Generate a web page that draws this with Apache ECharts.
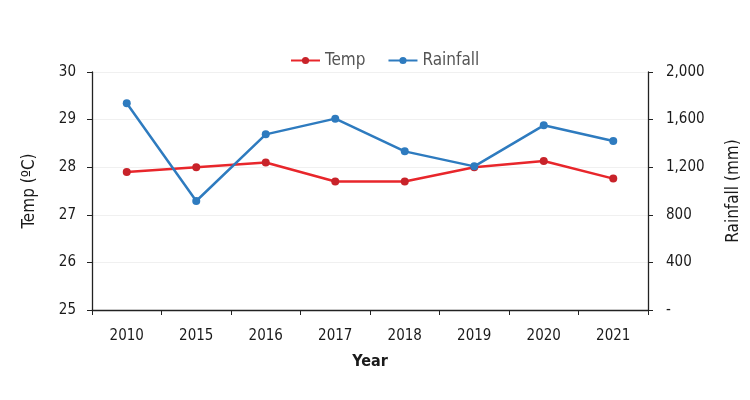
<!DOCTYPE html>
<html>
<head>
<meta charset="utf-8">
<script src="https://cdn.jsdelivr.net/npm/echarts@6/dist/echarts.min.js"></script>
<style>
html, body { margin: 0; padding: 0; background: #fff; }
#main { width: 750px; height: 400px; }
</style>
</head>
<body>
<div id="main"></div>
<script>
const years = ['2010', '2015', '2016', '2017', '2018', '2019', '2020', '2021']
const temp = [27.9, 28.0, 28.1, 27.7, 27.7, 28.0, 28.13, 27.76]
const rainfall = [1737, 916, 1476, 1608, 1333, 1207, 1552, 1420]

const chart = echarts.init(document.getElementById('main'))
const font = '"DejaVu Sans Condensed", "DejaVu Sans", sans-serif'
const txt = '#1a1a1a'

chart.setOption({
    textStyle: { fontFamily: font },
    legend: {
        top: 47,
        left: 285,
        itemGap: 22,
        itemWidth: 29,
        itemHeight: 9,
        textStyle: { fontSize: 17, color: '#555', fontFamily: font },
        data: ['Temp', 'Rainfall']
    },
    grid: { left: 92, right: 102, top: 72, bottom: 90, containLabel: false, outerBoundsMode: 'none' },
    xAxis: {
        type: 'category',
        data: years,
        boundaryGap: true,
        name: 'Year',
        nameLocation: 'middle',
        nameGap: 44,
        nameTextStyle: { fontSize: 16, fontWeight: 'bold', color: txt, fontFamily: font },
        axisLine: { lineStyle: { color: '#222', width: 1.3 } },
        axisTick: { show: true, alignWithLabel: false, length: 5, lineStyle: { color: '#222' } },
        axisLabel: { fontSize: 15, color: txt, margin: 19, fontFamily: font }
    },
    yAxis: [
        {
            type: 'value',
            min: 25, max: 30, interval: 1,
            name: 'Temp (ºC)',
            nameLocation: 'middle',
            nameGap: 54,
            nameTextStyle: { fontSize: 17, color: txt, fontFamily: font },
            axisLine: { show: true, lineStyle: { color: '#222', width: 1.3 } },
            axisTick: { show: true, length: 5, lineStyle: { color: '#222' } },
            axisLabel: { fontSize: 15, color: txt, margin: 16, fontFamily: font },
            splitLine: { lineStyle: { color: '#f0f0f0' } }
        },
        {
            type: 'value',
            min: 0, max: 2000, interval: 400,
            name: 'Rainfall (mm)',
            nameLocation: 'middle',
            nameGap: 77,
            nameTextStyle: { fontSize: 17, color: txt, fontFamily: font },
            axisLine: { show: true, lineStyle: { color: '#222', width: 1.3 } },
            axisTick: { show: true, length: 5, lineStyle: { color: '#222' } },
            axisLabel: {
                fontSize: 15, color: txt, margin: 18, fontFamily: font,
                formatter: v => v === 0 ? '-' : v.toLocaleString('en-US')
            },
            splitLine: { show: false }
        }
    ],
    series: [
        {
            name: 'Temp',
            type: 'line',
            data: temp,
            yAxisIndex: 0,
            symbol: 'circle',
            symbolSize: 8,
            lineStyle: { color: '#e8262b', width: 2.5 },
            itemStyle: { color: '#c8232a' },
            z: 3
        },
        {
            name: 'Rainfall',
            type: 'line',
            data: rainfall,
            yAxisIndex: 1,
            symbol: 'circle',
            symbolSize: 8,
            lineStyle: { color: '#2e7bbf', width: 2.5 },
            itemStyle: { color: '#2e7bbf' },
            z: 4
        }
    ]
})
</script>
</body>
</html>
